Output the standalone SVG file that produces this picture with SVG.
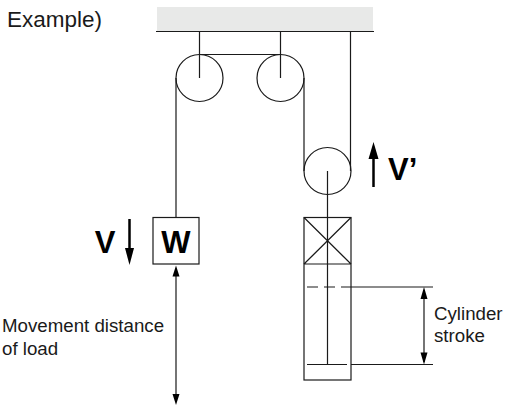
<svg xmlns="http://www.w3.org/2000/svg" width="506" height="407" viewBox="0 0 506 407">
<style>
.l{fill:none;stroke:#1a1a1a;stroke-width:1.2}
.p{fill:#fff;stroke:#1a1a1a;stroke-width:1.2}
.h{fill:#000;stroke:none}
text{font-family:"Liberation Sans",Arial,sans-serif;fill:#1a1a1a}
.s{font-size:18.7px}
.b{font-size:31px;font-weight:bold;fill:#000}
</style>
<rect width="506" height="407" fill="#fff"/>
<text id="label-example" x="7" y="27" style="font-size:22.5px">Example)</text>
<g id="ceiling"><rect x="157" y="7" width="216" height="24.5" fill="#e8e9e8"/><path class="l" d="M156 31.5H374"/></g>
<g id="pulley-1"><circle class="p" cx="199.5" cy="78" r="23.5"/></g>
<g id="pulley-2"><circle class="p" cx="280.5" cy="78" r="23.5"/></g>
<g id="pulley-3"><circle class="p" cx="327.5" cy="171" r="23.5"/></g>
<g id="connectors">
<path class="l" d="M199.5 31.5V78M280.5 31.5V78M350.5 31.5V171M199.5 54.5H280.5M176 78V217.5M304 78V171M327.5 171V364.5"/>
<path class="l" d="M351 287H433M351 364.5H433M424 290V362M176 270V401"/>
<path class="h" d="M424 287l-3.5 12h7zM424 364.5l-3.5-12h7zM176 265.500l-3.500 11h7zM176 405l-3.500-11h7z"/>
<path d="M373.500 187V151" fill="none" stroke="#000" stroke-width="2.500"/><path class="h" d="M373.500 142l-5 17h10z"/>
<path d="M129.500 219V252" fill="none" stroke="#000" stroke-width="2.500"/><path class="h" d="M129.500 265l-4.500-17h9z"/>
</g>
<g id="load-w"><rect class="p" x="153" y="217.500" width="46" height="46.500"/><text class="b" x="176" y="253" text-anchor="middle">W</text></g>
<g id="cylinder">
<rect class="l" x="304" y="217.500" width="47" height="162.500"/>
<path class="l" d="M304 264H351M304 217.500L351 264M351 217.500L304 264"/>
<path class="l" stroke-dasharray="11 6" d="M307 287H351"/>
<path class="l" d="M307 364.500H347"/>
</g>
<text class="b" x="105" y="253" text-anchor="middle">V</text>
<text class="b" x="388" y="180">V’</text>
<text class="s" x="434" y="320">Cylinder</text>
<text class="s" x="434" y="342">stroke</text>
<text class="s" x="2" y="332">Movement distance</text>
<text class="s" x="2" y="355">of load</text>
</svg>
